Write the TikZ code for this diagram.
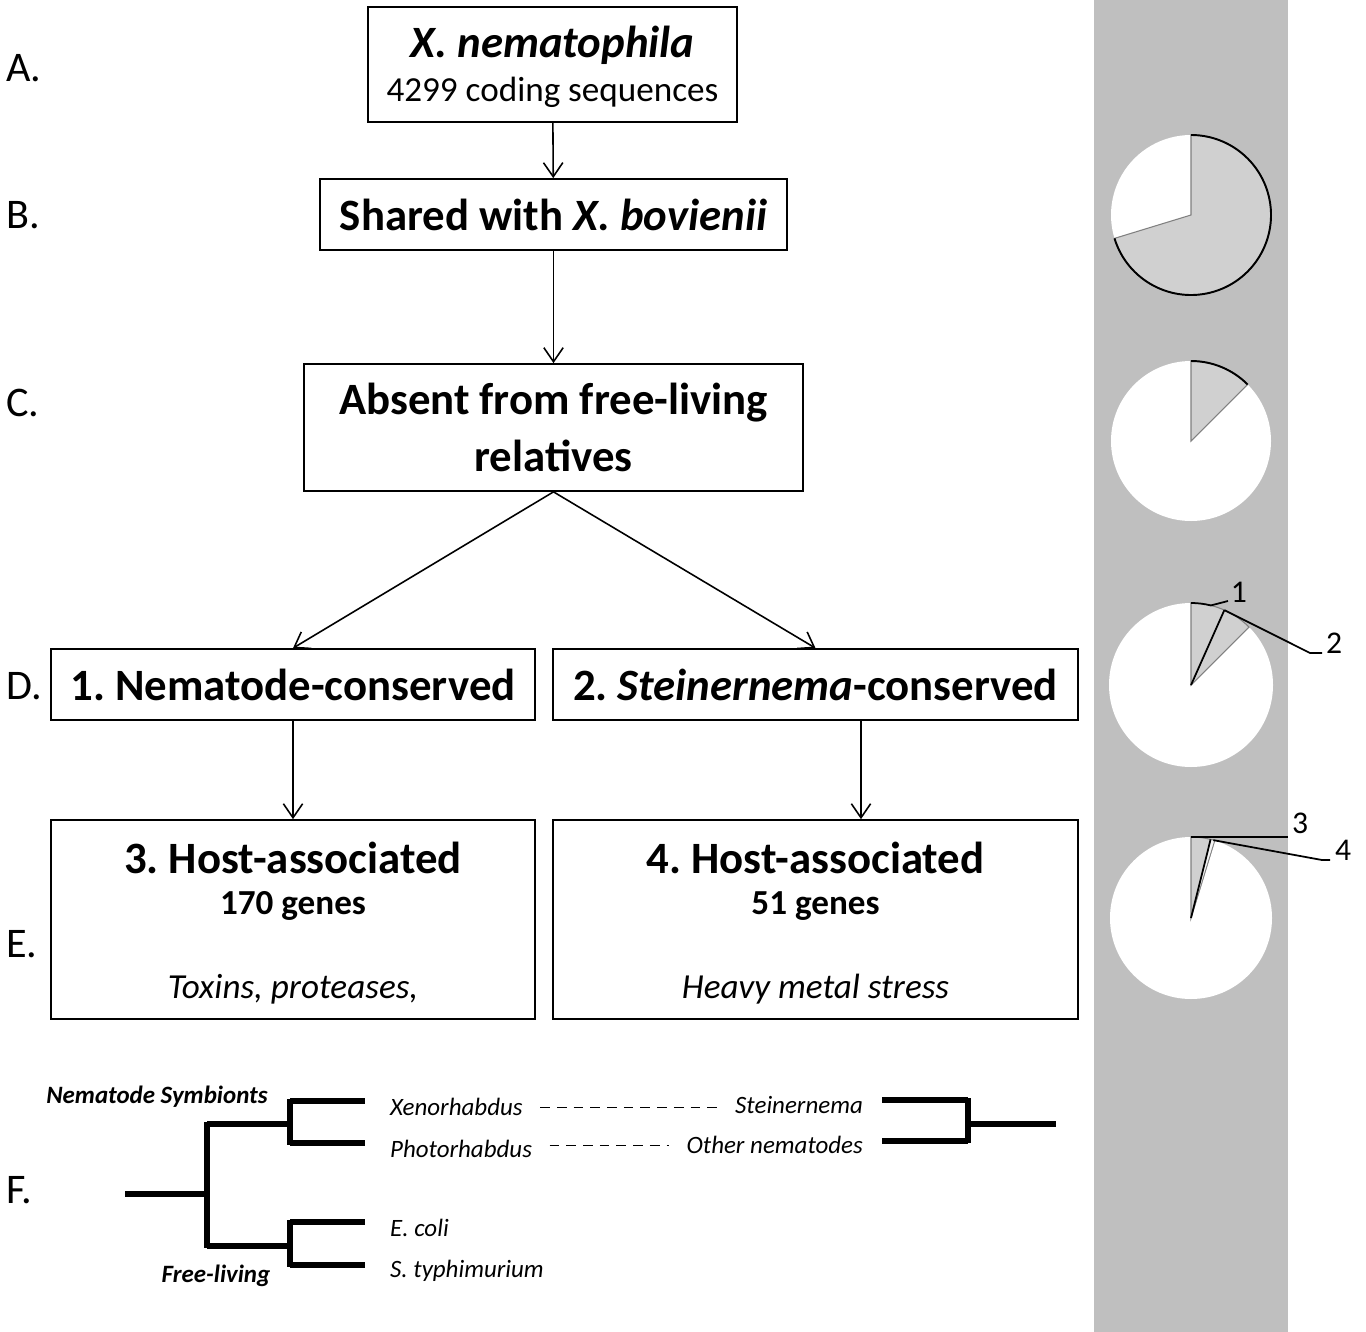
\documentclass[tikz,border=0pt]{standalone}
\usepackage{fontspec}
\setmainfont{Carlito}
\usepackage{tikz}
\usetikzlibrary{arrows.meta}
\frenchspacing

\definecolor{bandgray}{RGB}{191,191,191}
\definecolor{wedgegray}{RGB}{208,208,208}

\tikzset{
  box/.style={draw, rectangle, line width=1pt, inner sep=0pt},
  flow/.style={-{Straight Barb[length=8pt, width=11pt]}, line width=0.9pt},
  branch/.style={line width=3.4pt},
  rowlabel/.style={anchor=west, font=\fontsize{24}{26}\selectfont},
  boxtext/.style={font=\fontsize{25.5}{28}\selectfont\bfseries},
  speciestext/.style={font=\fontsize{25.5}{28}\selectfont\bfseries\itshape},
  cdstext/.style={font=\fontsize{20}{22}\selectfont},
  genestext/.style={font=\fontsize{20}{22}\selectfont\bfseries},
  desctext/.style={font=\fontsize{20}{22}\selectfont\itshape},
  taxon/.style={anchor=west, font=\fontsize{14.2}{16}\selectfont\itshape},
  group/.style={font=\fontsize{14.2}{16}\selectfont\bfseries\itshape},
  dashes/.style={line width=1pt, dash pattern=on 5.5pt off 4pt},
  pienum/.style={font=\fontsize{18}{20}\selectfont}
}

\begin{document}
\begin{tikzpicture}[x=0.02cm, y=-0.02cm]
\useasboundingbox (0,0) rectangle (1366,1332);

% Band
\fill[bandgray] (1094,0) rectangle (1288,1332);

% Boxes
\node[box, minimum width=7.38cm, minimum height=2.30cm] (xnem) at (552.5,64.5) {};
\node[box, boxtext, minimum width=9.34cm, minimum height=1.42cm] (shared) at (553.5,214.5)
  {Shared with \textit{X. bovienii}};
\node[box, boxtext, minimum width=9.98cm, minimum height=2.54cm, align=center] (absent) at (553.5,427.5)
  {Absent from free-living\\[4pt] relatives};
\node[box, boxtext, minimum width=9.68cm, minimum height=1.42cm] (nemcons) at (293,684.5)
  {1. Nematode-conserved};
\node[box, boxtext, minimum width=10.5cm, minimum height=1.42cm] (steincons) at (815.5,684.5)
  {2. \textit{Steinernema}-conserved};
\node[box, minimum width=9.68cm, minimum height=3.98cm] (hostone) at (293,919.5) {};
\node[box, minimum width=10.5cm, minimum height=3.98cm] (hosttwo) at (815.5,919.5) {};

% Box texts
\node[speciestext] (xnemname) at (552.5,45) {X. nematophila};
\node[cdstext] (xnemcds) at (552.5,92) {4299 coding sequences};
\node[boxtext] (hostonetitle) at (293,858) {3. Host-associated};
\node[genestext] (hostonegenes) at (293,906) {170 genes};
\node[desctext] (hostonedesc) at (293,989) {Toxins, proteases,};
\node[boxtext] (hosttwotitle) at (815.5,858) {4. Host-associated};
\node[genestext] (hosttwogenes) at (815.5,906) {51 genes};
\node[desctext] (hosttwodesc) at (815.5,989) {Heavy metal stress};

% Arrows
\draw[flow] (xnem) -- (shared);
\draw[flow] (shared) -- (absent);
\draw[flow] (absent.south) -- (nemcons.north);
\draw[flow] (absent.south) -- (steincons.north);
\draw[flow] (nemcons) -- (hostone);
\draw[flow] ([xshift=0.91cm]steincons.south) -- ([xshift=0.91cm]hosttwo.north);

% Row labels
\node[rowlabel] (rowa) at (0,68) {A.};
\node[rowlabel] (rowb) at (0,215) {B.};
\node[rowlabel] (rowc) at (0,403) {C.};
\node[rowlabel] (rowd) at (0,686) {D.};
\node[rowlabel] (rowe) at (0,944) {E.};
\node[rowlabel] (rowf) at (0,1190) {F.};

% Pie B
\begin{scope}[shift={(1191,215)}, y=0.02cm]
\fill[white] (0,0) -- (90:80) arc (90:197:80) -- cycle;
\filldraw[fill=wedgegray, draw=gray, line width=0.6pt] (0,0) -- (197:80) arc (197:450:80) -- cycle;
\draw[line width=1.1pt] (197:80) arc (197:450:80);
\end{scope}

% Pie C
\begin{scope}[shift={(1191,441)}, y=0.02cm]
\fill[white] (0,0) circle (80);
\filldraw[fill=wedgegray, draw=gray, line width=0.6pt] (0,0) -- (45:80) arc (45:90:80) -- cycle;
\draw[line width=1.1pt] (45:80) arc (45:90:80);
\end{scope}

% Pie D
\begin{scope}[shift={(1191,685)}, y=0.02cm]
\fill[white] (0,0) circle (82);
\filldraw[fill=wedgegray, draw=gray, line width=0.6pt] (0,0) -- (45:82) arc (45:90:82) -- cycle;
\draw[line width=1pt] (0,0) -- (66:82);
\draw[line width=1pt] (90:82) arc (90:76:82) -- (37,84);
\node[pienum] (numone) at (48,93) {1};
\draw[line width=1pt] (66:82) -- (119,32) -- (131,32);
\node[pienum] (numtwo) at (143,42) {2};
\end{scope}

% Pie E
\begin{scope}[shift={(1191,918)}, y=0.02cm]
\fill[white] (0,0) circle (81);
\filldraw[fill=wedgegray, draw=gray, line width=0.6pt] (0,0) -- (73:81) arc (73:90:81) -- cycle;
\filldraw[fill=white!80!wedgegray, draw=gray, line width=0.4pt] (0,0) -- (73:81) arc (73:76:81) -- cycle;
\draw[line width=1pt] (0,0) -- (76:81);
\draw[line width=1pt] (90:81) -- (97,81);
\node[pienum] (numthree) at (109,95) {3};
\draw[line width=1pt] (74:81) -- (131,58) -- (139,58);
\node[pienum] (numfour) at (152,68) {4};
\end{scope}

% Tree
\draw[branch] (125,1194) -- (207,1194);
\draw[branch] (207,1122) -- (207,1248);
\draw[branch] (207,1124) -- (290,1124);
\draw[branch] (207,1246) -- (290,1246);
\draw[branch] (290,1099) -- (290,1145);
\draw[branch] (290,1101) -- (365,1101);
\draw[branch] (290,1143) -- (365,1143);
\draw[branch] (290,1220) -- (290,1267);
\draw[branch] (290,1222) -- (365,1222);
\draw[branch] (290,1265) -- (365,1265);
\draw[branch] (882,1100) -- (968,1100);
\draw[branch] (882,1141) -- (968,1141);
\draw[branch] (968,1098) -- (968,1143);
\draw[branch] (968,1124) -- (1056,1124);

% Tree labels
\node[group] (symb) at (157,1097) {Nematode Symbionts};
\node[group] (freeliv) at (216,1276) {Free-living};
\node[taxon] (xeno) at (384,1107) {Xenorhabdus};
\node[taxon] (photo) at (384,1149) {Photorhabdus};
\node[taxon] (ecoli) at (384,1228) {E. coli};
\node[taxon] (styph) at (384,1271) {S. typhimurium};
\node[taxon, anchor=east] (stein) at (869,1105) {Steinernema};
\node[taxon, anchor=east] (othernem) at (869,1145) {Other nematodes};

% Dashes
\coordinate (xenoend) at ([xshift=0.23cm,yshift=0.08cm]xeno.mid east);
\coordinate (photoend) at ([xshift=0.23cm,yshift=0.16cm]photo.mid east);
\draw[dashes, shorten >=0.23cm] (xenoend) -- (xenoend -| stein.west);
\draw[dashes, shorten >=0.23cm] (photoend) -- (photoend -| othernem.west);

\end{tikzpicture}
\end{document}
